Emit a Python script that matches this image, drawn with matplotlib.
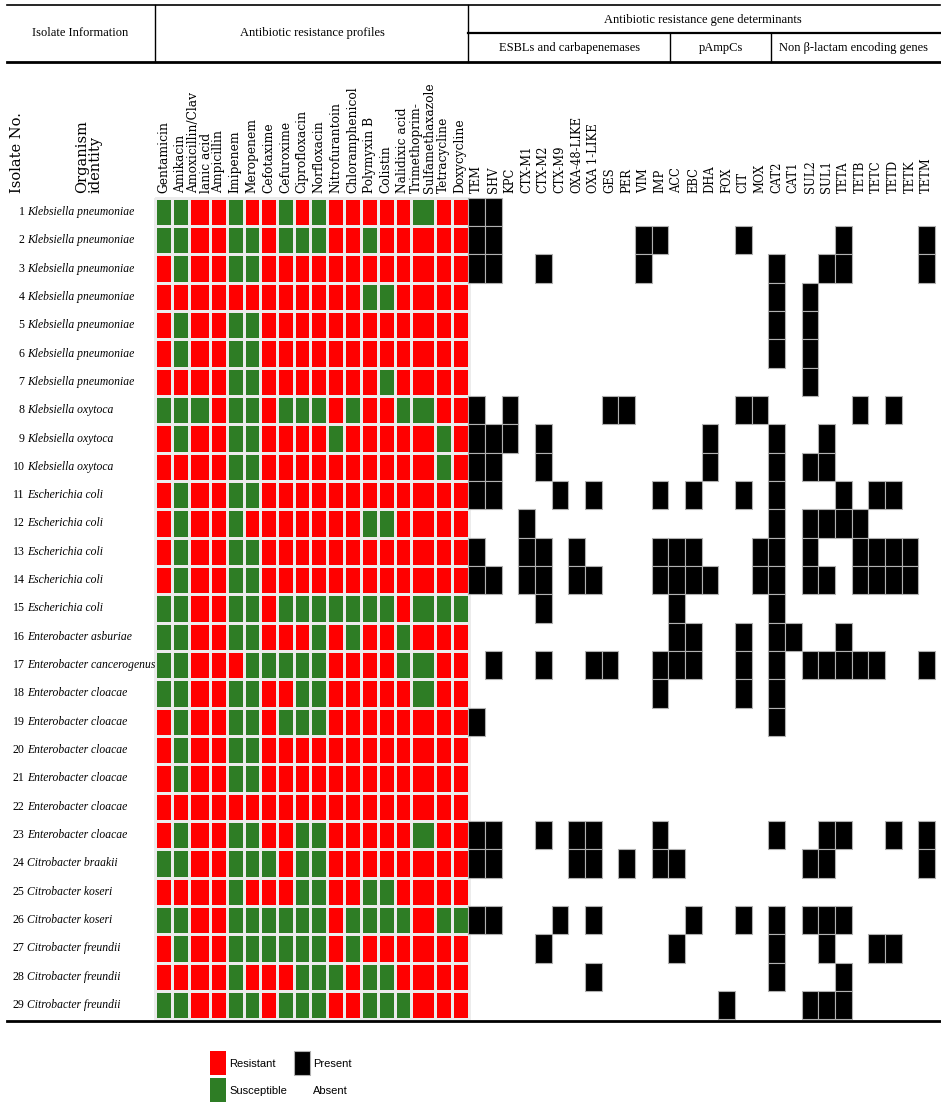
import matplotlib
matplotlib.use("Agg")
import matplotlib.pyplot as plt
from matplotlib.collections import PatchCollection
from matplotlib.colors import ListedColormap
import numpy as np

# isolate information
isolate_no = list(range(1, 30))
organisms = (["Klebsiella pneumoniae"] * 7 + ["Klebsiella oxytoca"] * 3 +
             ["Escherichia coli"] * 5 + ["Enterobacter asburiae", "Enterobacter cancerogenus"] +
             ["Enterobacter cloacae"] * 6 + ["Citrobacter braakii"] +
             ["Citrobacter koseri"] * 2 + ["Citrobacter freundii"] * 3)

antibiotics = ["Gentamicin", "Amikacin", "Amoxicillin/Clav\nlanic acid", "Ampicillin",
               "Imipenem", "Meropenem", "Cefotaxime", "Cefuroxime", "Ciprofloxacin",
               "Norfloxacin", "Nitrofurantoin", "Chloramphenicol", "Polymyxin B",
               "Colistin", "Nalidixic acid", "Trimethoprim-\nSulfamethaxazole",
               "Tetracycline", "Doxycycline"]

# R = resistant, S = susceptible (one string per isolate, one letter per antibiotic)
profiles = [
    "SSRRSRRSRSRRRRRSRR", "SSRRSSRSSSRRSRRRRR", "RSRRSSRRRRRRRRRRRR",
    "RRRRRRRRRRRRSSRRRR", "RSRRSSRRRRRRRRRRRR", "RSRRSSRRRRRRRRRRRR",
    "RRRRSSRRRRRRRSRRRR", "SSSRSSRSSSRSRRSSRR", "RSRRSSRRRRSRRRRRSR",
    "RRRRSSRRRRRRRRRRSR", "RSRRSSRRRRRRRRRRRR", "RSRRSRRRRRRRSSRRRR",
    "RSRRSSRRRRRRRRRRRR", "RSRRSSRRRRRRRRRRRR", "SSRRSSRSSSSSSSRSSS",
    "SSRRSSRRRSRSRRSRRR", "SSRRRSSSSSRRRRSSRR", "SSRRSSRRSSRRRRRSRR",
    "RSRRSSRSSSRRRRRRRR", "RSRRSSRRRRRRRRRRRR", "RSRRSSRRRRRRRRRRRR",
    "RRRRRRRRRRRRRRRRRR", "RSRRSSRRSSRRRRRSRR", "SSRRSSSRSSRRRRRRRR",
    "RRRRSRRRSSRRSSRRRR", "SSRRSSSSSSRSSSSRSS", "RSRRSSSSSSRSRRRRRR",
    "RRRRSRRRSSSRSSRRRR", "SSRRSSRSSSRRSSSRRR",
]

genes = ["TEM", "SHV", "KPC", "CTX-M1", "CTX-M2", "CTX-M9", "OXA-48-LIKE", "OXA 1-LIKE",
         "GES", "PER", "VIM", "IMP", "ACC", "EBC", "DHA", "FOX", "CIT", "MOX",
         "CAT2", "CAT1", "SUL2", "SUL1", "TETA", "TETB", "TETC", "TETD", "TETK", "TETM"]

# genes present in each isolate
present = [
    ["TEM", "SHV"],
    ["TEM", "SHV", "VIM", "IMP", "CIT", "TETA", "TETM"],
    ["TEM", "SHV", "CTX-M2", "VIM", "CAT2", "SUL1", "TETA", "TETM"],
    ["CAT2", "SUL2"],
    ["CAT2", "SUL2"],
    ["CAT2", "SUL2"],
    ["SUL2"],
    ["TEM", "KPC", "GES", "PER", "CIT", "MOX", "TETB", "TETD"],
    ["TEM", "SHV", "KPC", "CTX-M2", "DHA", "CAT2", "SUL1"],
    ["TEM", "SHV", "CTX-M2", "DHA", "CAT2", "SUL2", "SUL1"],
    ["TEM", "SHV", "CTX-M9", "OXA 1-LIKE", "IMP", "EBC", "CIT", "CAT2", "TETA", "TETC", "TETD"],
    ["CTX-M1", "CAT2", "SUL2", "SUL1", "TETA", "TETB"],
    ["TEM", "CTX-M1", "CTX-M2", "OXA-48-LIKE", "IMP", "ACC", "EBC", "MOX", "CAT2", "SUL2",
     "TETB", "TETC", "TETD", "TETK"],
    ["TEM", "SHV", "CTX-M1", "CTX-M2", "OXA-48-LIKE", "OXA 1-LIKE", "IMP", "ACC", "EBC", "DHA",
     "MOX", "CAT2", "SUL2", "SUL1", "TETB", "TETC", "TETD", "TETK"],
    ["CTX-M2", "ACC", "CAT2"],
    ["ACC", "EBC", "CIT", "CAT2", "CAT1", "TETA"],
    ["SHV", "CTX-M2", "OXA 1-LIKE", "GES", "IMP", "ACC", "EBC", "CIT", "CAT2", "SUL2", "SUL1",
     "TETA", "TETB", "TETC", "TETM"],
    ["IMP", "CIT", "CAT2"],
    ["TEM", "CAT2"],
    [],
    [],
    [],
    ["TEM", "SHV", "CTX-M2", "OXA-48-LIKE", "OXA 1-LIKE", "IMP", "CAT2", "SUL1", "TETA", "TETD", "TETM"],
    ["TEM", "SHV", "OXA-48-LIKE", "OXA 1-LIKE", "PER", "IMP", "ACC", "SUL2", "SUL1", "TETM"],
    [],
    ["TEM", "SHV", "CTX-M9", "OXA 1-LIKE", "EBC", "CIT", "CAT2", "SUL2", "SUL1", "TETA"],
    ["CTX-M2", "ACC", "CAT2", "SUL1", "TETC", "TETD"],
    ["OXA 1-LIKE", "CAT2", "TETA"],
    ["FOX", "SUL2", "SUL1", "TETA"],
]

# layout (pixels)
W, H = 941, 1106
ab_x0 = 155.5
ab_w = [16.5, 17.3, 20.7, 17, 16.7, 16.7, 16.7, 16.7, 16.7, 16.7, 16.7, 17, 16.7, 17, 16.7, 23.3, 17.3, 16.7]
row_y0 = 197.7
row_h = 28.33
gene_x0 = 468.3
gene_w = 16.67
label_y = 193
RED = "#ff0000"
GREEN = "#2e7d25"
SERIF = "Liberation Serif"
SERIF2 = "DejaVu Serif"

fig = plt.figure(figsize=(W / 100, H / 100), dpi=100)
ax = fig.add_axes([0, 0, 1, 1])
ax.set_xlim(0, W)
ax.set_ylim(H, 0)
ax.axis("off")

n_rows = len(profiles)
x_edges = ab_x0 + np.concatenate([[0], np.cumsum(ab_w)])
y_edges = row_y0 + np.arange(n_rows + 1) * row_h

# antibiotic profile grid
mat = np.array([[1 if c == "R" else 0 for c in p] for p in profiles])
ax.pcolormesh(x_edges, y_edges, mat, cmap=ListedColormap([GREEN, RED]), vmin=0, vmax=1,
              edgecolors="#ececec", linewidth=1.0)

for j, name in enumerate(antibiotics):
    xc = (x_edges[j] + x_edges[j + 1]) / 2
    ax.text(xc, label_y, name, rotation=90, ha="center", va="bottom", multialignment="left",
            fontsize=8.8, family=SERIF2, linespacing=1.0)

# gene grid
patches = []
for i, row in enumerate(present):
    for g in row:
        j = genes.index(g)
        patches.append(plt.Rectangle((gene_x0 + j * gene_w, y_edges[i]), gene_w, row_h))
coll = PatchCollection(patches, facecolor="black", edgecolor="#b0b0b0", linewidth=0.8)
ax.add_collection(coll)

for j, g in enumerate(genes):
    ax.text(gene_x0 + (j + 0.5) * gene_w, label_y, g, rotation=90, ha="center", va="bottom",
            fontsize=8.3, family=SERIF2)

# row labels
for i, (num, org) in enumerate(zip(isolate_no, organisms)):
    yc = (y_edges[i] + y_edges[i + 1]) / 2
    ax.text(24.5, yc, str(num), ha="right", va="center", fontsize=8.6, family=SERIF)
    ax.text(27, yc, org, ha="left", va="center", fontsize=8.4, family=SERIF, style="italic")

ax.text(17, label_y, "Isolate No.", rotation=90, ha="center", va="bottom", fontsize=10.5, family=SERIF2)
ax.text(89, label_y, "Organism\nidentity", rotation=90, ha="center", va="bottom",
        multialignment="left", fontsize=10.5, family=SERIF2, linespacing=0.95)

# header block
ax.text(80, 33, "Isolate Information", ha="center", va="center", fontsize=9, family=SERIF)
ax.text(312, 33, "Antibiotic resistance profiles", ha="center", va="center", fontsize=9, family=SERIF)
ax.text(703, 20, "Antibiotic resistance gene determinants", ha="center", va="center", fontsize=9, family=SERIF)
ax.text(570, 48, "ESBLs and carbapenemases", ha="center", va="center", fontsize=9, family=SERIF)
ax.text(721, 48, "pAmpCs", ha="center", va="center", fontsize=9, family=SERIF)
ax.text(854, 48, "Non \u03b2-lactam encoding genes", ha="center", va="center", fontsize=9, family=SERIF)

ax.plot([7, 940], [5, 5], color="black", lw=1.2)
ax.plot([7, 940], [62, 62], color="black", lw=2.0)
ax.plot([468, 940], [33, 33], color="black", lw=1.6)
ax.plot([155, 155], [5, 62], color="black", lw=1.0)
ax.plot([468, 468], [5, 62], color="black", lw=1.0)
ax.plot([670, 670], [33, 62], color="black", lw=1.0)
ax.plot([771, 771], [33, 62], color="black", lw=1.0)
ax.plot([7, 940], [y_edges[-1] + 1.5, y_edges[-1] + 1.5], color="black", lw=2.0)

# legend
legend_items = [("Resistant", RED, 210, 1051), ("Susceptible", GREEN, 210, 1078),
                ("Present", "black", 294, 1051), ("Absent", "white", 294, 1078)]
for label, col, lx, ly in legend_items:
    ec = "#b0b0b0" if col == "black" else "none"
    ax.add_patch(plt.Rectangle((lx, ly), 16.5, 24, facecolor=col, edgecolor=ec, lw=0.8))
    ax.text(lx + 19, ly + 13, label, ha="left", va="center", fontsize=8, family="Liberation Sans")

fig.savefig("out.png", dpi=100)
